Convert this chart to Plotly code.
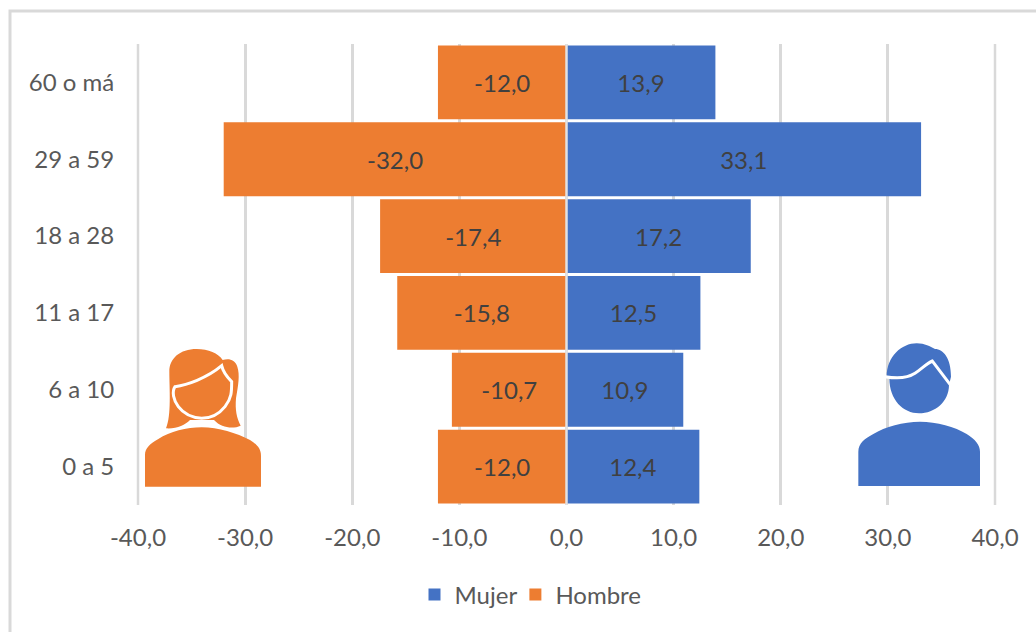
import plotly.graph_objects as go

categories = ["0 a 5", "6 a 10", "11 a 17", "18 a 28", "29 a 59", "60 o má"]
mujer = [12.4, 10.9, 12.5, 17.2, 33.1, 13.9]
hombre = [-12.0, -10.7, -15.8, -17.4, -32.0, -12.0]
x_ticks = [-40, -30, -20, -10, 0, 10, 20, 30, 40]
x_tick_labels = ["-40,0", "-30,0", "-20,0", "-10,0", "0,0", "10,0", "20,0", "30,0", "40,0"]

W, H = 1036, 632
L, R, T, B = 138, 995, 44, 505
ORANGE = "#ed7d31"
BLUE = "#4472c4"
GRID = "#d9d9d9"
GRID_W = 2.5


def fx(px):
    return (px - L) / (R - L)


def fy(py):
    return (B - py) / (B - T)


def icon_path(segments, ox, oy, close=True):
    """Decorative pictogram outline; zoomed-crop units (3x) to paper fractions."""
    parts = []
    for cmd, pts in segments:
        coords = " ".join(
            f"{fx(ox + px / 3):.5f},{fy(oy + py / 3):.5f}" for px, py in pts
        )
        parts.append(f"{cmd} {coords}")
    return " ".join(parts) + (" Z" if close else "")


woman_body = [("M", [(45, 455)]), ("L", [(45, 360)]),
              ("C", [(45, 340), (60, 325), (85, 312)]),
              ("C", [(120, 290), (170, 277), (215, 277)]),
              ("C", [(265, 277), (320, 295), (360, 315)]),
              ("C", [(380, 328), (393, 340), (393, 362)]),
              ("L", [(393, 455)])]
woman_hair = [("M", [(108, 280)]),
              ("C", [(125, 240), (118, 160), (118, 110)]),
              ("C", [(118, 70), (150, 42), (200, 42)]),
              ("C", [(235, 42), (265, 55), (278, 75)]),
              ("C", [(295, 70), (315, 72), (322, 95)]),
              ("C", [(330, 120), (325, 150), (318, 190)]),
              ("C", [(315, 225), (320, 250), (332, 272)]),
              ("C", [(310, 282), (275, 280), (252, 255)]),
              ("L", [(180, 255)]),
              ("C", [(165, 270), (140, 282), (108, 280)])]
woman_face = [("M", [(135, 155)]),
              ("C", [(170, 150), (230, 130), (275, 92)]),
              ("C", [(280, 115), (295, 130), (305, 140)]),
              ("C", [(305, 170), (305, 190), (285, 215)]),
              ("C", [(265, 240), (240, 250), (215, 250)]),
              ("C", [(185, 248), (160, 235), (145, 215)]),
              ("C", [(130, 195), (125, 170), (135, 155)])]
man_body = [("M", [(40, 453)]), ("L", [(40, 350)]),
            ("C", [(40, 325), (60, 310), (85, 297)]),
            ("C", [(120, 275), (175, 260), (225, 260)]),
            ("C", [(275, 260), (330, 275), (365, 297)]),
            ("C", [(390, 312), (405, 330), (405, 350)]),
            ("L", [(405, 453)])]
man_head = [("M", [(125, 125)]),
            ("C", [(125, 65), (170, 25), (215, 25)]),
            ("C", [(240, 25), (255, 35), (270, 42)]),
            ("C", [(295, 42), (318, 70), (318, 125)]),
            ("L", [(312, 150)]),
            ("C", [(312, 200), (270, 235), (222, 235)]),
            ("C", [(175, 235), (133, 195), (133, 130)])]
man_line = [("M", [(120, 125)]),
            ("C", [(160, 132), (190, 128), (210, 115)]),
            ("C", [(230, 102), (245, 85), (262, 78)]),
            ("L", [(315, 148)])]

WX, WY, MX, MY = 130, 335, 845, 335


def filled(path, color, line_color=None, line_width=0):
    return dict(type="path", xref="paper", yref="paper", path=path,
                fillcolor=color, layer="above",
                line=dict(color=line_color or color, width=line_width))


def grid_edge(paper_x):
    return dict(type="line", xref="paper", yref="paper", x0=paper_x, x1=paper_x, y0=0, y1=1,
                layer="below", line=dict(color=GRID, width=GRID_W))


shapes = [
    dict(type="rect", xref="paper", yref="paper", layer="below",
         x0=fx(10), x1=fx(1060), y0=fy(11), y1=fy(660),
         line=dict(color=GRID, width=3), fillcolor="white"),
    grid_edge(0),
    grid_edge(1),
    dict(type="line", xref="x", yref="paper", x0=0, x1=0, y0=0, y1=1,
         layer="above", line=dict(color="#e4e2e0", width=2.5)),
    filled(icon_path(woman_body, WX, WY), ORANGE),
    filled(icon_path(woman_hair, WX, WY), ORANGE),
    filled(icon_path(woman_face, WX, WY), ORANGE, "white", 3),
    filled(icon_path(man_body, MX, MY), BLUE),
    filled(icon_path(man_head, MX, MY), BLUE),
    dict(type="path", xref="paper", yref="paper", layer="above",
         path=icon_path(man_line, MX, MY, close=False),
         line=dict(color="white", width=3)),
]

FAMILY = "Lato, Carlito, sans-serif"
label_font = dict(family=FAMILY, size=24, color="#404040")
tick_font = dict(family=FAMILY, size=24, color="#595959")

fig = go.Figure()
for name, values, color in [("Mujer", mujer, BLUE), ("Hombre", hombre, ORANGE)]:
    fig.add_trace(go.Bar(
        name=name, y=categories, x=values, orientation="h",
        marker=dict(color=color, line=dict(width=0)),
        texttemplate="%{x:.1f}", textposition="inside",
        insidetextanchor="middle", textangle=0,
        insidetextfont=label_font, constraintext="none",
    ))

fig.update_layout(
    width=W, height=H,
    autosize=False,
    margin=dict(l=L, r=W - R, t=T, b=H - B, pad=0),
    paper_bgcolor="white", plot_bgcolor="white",
    barmode="relative", bargap=0.04,
    separators=",.",
    shapes=shapes,
    showlegend=True,
    legend=dict(orientation="h", x=fx(534), xanchor="center",
                y=fy(595), yanchor="middle",
                font=dict(family=FAMILY, size=24, color="#595959"),
                itemwidth=30, indentation=-7, traceorder="normal",
                bgcolor="rgba(0,0,0,0)"),
    xaxis=dict(range=[x_ticks[0], x_ticks[-1]], tickvals=x_ticks, ticktext=x_tick_labels,
               showgrid=True, gridcolor=GRID, gridwidth=GRID_W, zeroline=False,
               showline=False, ticks="outside", ticklen=11,
               tickcolor="rgba(0,0,0,0)", tickfont=tick_font, fixedrange=True),
    yaxis=dict(categoryorder="array", categoryarray=categories,
               showgrid=False, zeroline=False, showline=False,
               ticks="outside", ticklen=18, tickcolor="rgba(0,0,0,0)",
               tickfont=tick_font, fixedrange=True),
)

fig.write_html("out.html", config=dict(displayModeBar=False),
               post_script="document.body.style.margin='0';document.documentElement.style.overflow='hidden';")
